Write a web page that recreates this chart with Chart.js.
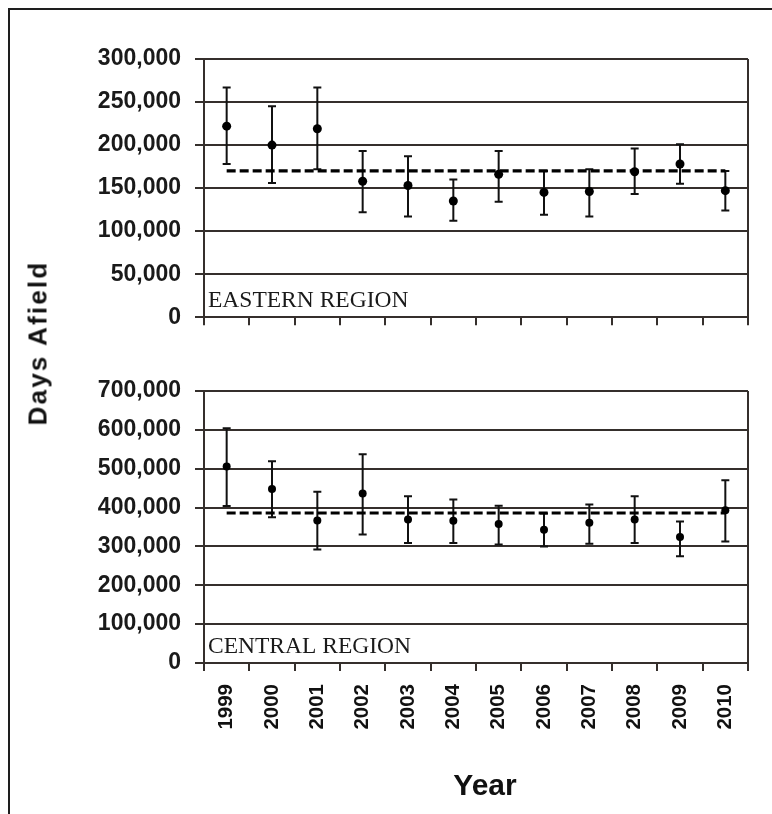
<!DOCTYPE html>
<html><head><meta charset="utf-8">
<script src="https://cdn.jsdelivr.net/npm/chart.js@4.4.1/dist/chart.umd.min.js"></script>
<style>
html,body{margin:0;padding:0;background:#fff;overflow:hidden;width:772px;height:814px;position:relative;}
#frame{position:absolute;left:8px;top:8px;width:800px;height:850px;border:2px solid #1e1e1e;box-sizing:border-box;}
canvas{position:absolute;left:0;}
#c1{top:0}
#c2{top:345px}
.title{position:absolute;font-family:"Liberation Sans",Arial,sans-serif;font-weight:bold;color:#111;white-space:nowrap;}
#ytitle{left:38px;top:343px;font-size:26px;transform:translate(-50%,-50%) rotate(-90deg);letter-spacing:2.2px;}
#xtitle{left:485px;top:785px;font-size:30px;transform:translate(-50%,-50%);}
</style></head><body>
<div id="frame"></div>
<canvas id="c1" width="772" height="345"></canvas>
<canvas id="c2" width="772" height="469"></canvas>
<div id="ytitle" class="title">Days Afield</div>
<div id="xtitle" class="title">Year</div>
<script>
// ---- data ----
const years = ['1999','2000','2001','2002','2003','2004','2005','2006','2007','2008','2009','2010'];

const eastName = 'EASTERN REGION';
const eastValues = [222000, 200000, 219000, 158000, 153000, 135000, 166000, 145000, 146000, 169000, 178000, 147000];
const eastLow    = [178000, 156000, 172000, 122000, 117000, 112000, 134000, 119000, 117000, 143000, 155000, 124000];
const eastHigh   = [267000, 245000, 267000, 193000, 187000, 160000, 193000, 170000, 172000, 196000, 201000, 170000];
const eastMean = 170000;
const eastTicks = [0, 50000, 100000, 150000, 200000, 250000, 300000];

const centralName = 'CENTRAL REGION';
const centralValues = [506000, 448000, 367000, 436000, 369000, 366000, 358000, 343000, 361000, 369000, 324000, 393000];
const centralLow    = [404000, 375000, 292000, 331000, 309000, 309000, 305000, 300000, 307000, 309000, 275000, 313000];
const centralHigh   = [604000, 519000, 441000, 537000, 429000, 421000, 405000, 385000, 408000, 429000, 364000, 470000];
const centralMean = 386000;
const centralTicks = [0, 100000, 200000, 300000, 400000, 500000, 600000, 700000];

// ---- style ----
const GRID = '#352f2c';
const FONT = '"Liberation Sans", Arial, sans-serif';
const fmt = v => String(v).replace(/\B(?=(\d{3})+(?!\d))/g, ',');

const errorBarPlugin = {
  id: 'errorBars',
  beforeDatasetsDraw(chart, args, opts) {
    const ctx = chart.ctx, x = chart.scales.x, y = chart.scales.y;
    ctx.save();
    ctx.strokeStyle = '#111';
    ctx.lineWidth = 2;
    opts.low.forEach((lo, i) => {
      const px = x.getPixelForValue(i);
      const yl = y.getPixelForValue(lo), yh = y.getPixelForValue(opts.high[i]);
      ctx.beginPath();
      ctx.moveTo(px, yl); ctx.lineTo(px, yh);
      ctx.moveTo(px - opts.cap, yl); ctx.lineTo(px + opts.cap, yl);
      ctx.moveTo(px - opts.cap, yh); ctx.lineTo(px + opts.cap, yh);
      ctx.stroke();
    });
    ctx.restore();
  }
};

const regionPlugin = {
  id: 'regionLabel',
  afterDraw(chart, args, opts) {
    const ctx = chart.ctx, a = chart.chartArea;
    ctx.save();
    ctx.font = '23.5px "Liberation Serif", "Times New Roman", serif';
    ctx.fillStyle = '#1a1a1a';
    ctx.textAlign = 'left';
    ctx.textBaseline = 'alphabetic';
    ctx.fillText(opts.text, a.left + 4, a.bottom - 10);
    ctx.restore();
  }
};

const borderPlugin = {
  id: 'rightBorder',
  afterDraw(chart) {
    const ctx = chart.ctx, a = chart.chartArea;
    ctx.save();
    ctx.strokeStyle = GRID;
    ctx.lineWidth = 2;
    ctx.beginPath();
    ctx.moveTo(a.right, a.top);
    ctx.lineTo(a.right, a.bottom);
    ctx.stroke();
    ctx.restore();
  }
};

function makeChart(id, cfg) {
  return new Chart(document.getElementById(id), {
    type: 'line',
    data: {
      labels: years,
      datasets: [
        { label: cfg.name, data: cfg.values, showLine: false, pointRadius: cfg.r, pointHoverRadius: cfg.r,
          pointBackgroundColor: '#000', pointBorderColor: '#000', pointBorderWidth: 0, order: 0 },
        { label: 'mean', data: [{x: years[0], y: cfg.mean}, {x: years[years.length - 1], y: cfg.mean}],
          borderColor: '#000', borderWidth: 3.2, borderDash: [9, 4], pointRadius: 0, fill: false, order: 1 }
      ]
    },
    options: {
      responsive: false, animation: false, events: [],
      layout: { padding: { left: 0, top: cfg.padTop, right: 24, bottom: 0 } },
      plugins: {
        legend: { display: false }, tooltip: { enabled: false },
        errorBars: { low: cfg.low, high: cfg.high, cap: 4 },
        regionLabel: { text: cfg.name }
      },
      scales: {
        x: {
          type: 'category', offset: true,
          grid: { offset: true, drawOnChartArea: false, drawTicks: true, tickLength: 8, color: GRID, lineWidth: 2 },
          border: { display: true, color: GRID, width: 2 },
          ticks: { display: cfg.showX, autoSkip: false, minRotation: 90, maxRotation: 90, padding: 13,
                   color: '#111', font: { family: FONT, size: 20.5, weight: 'bold' } },
          afterFit: s => { s.height = cfg.xHeight; }
        },
        y: {
          min: 0, max: cfg.ticks[cfg.ticks.length - 1],
          afterBuildTicks: s => { s.ticks = cfg.ticks.map(v => ({ value: v })); },
          grid: { color: GRID, lineWidth: 2, tickLength: 9, drawTicks: true },
          border: { display: true, color: GRID, width: 2 },
          ticks: { padding: 14, color: '#1a1a1a', font: { family: FONT, size: 23, weight: 'bold' }, callback: v => fmt(v) },
          afterFit: s => { s.width = 204; }
        }
      }
    },
    plugins: [errorBarPlugin, regionPlugin, borderPlugin]
  });
}

makeChart('c1', { name: eastName, values: eastValues, low: eastLow, high: eastHigh, mean: eastMean,
  ticks: eastTicks, r: 4.5, padTop: 59, xHeight: 22, showX: false });
makeChart('c2', { name: centralName, values: centralValues, low: centralLow, high: centralHigh, mean: centralMean,
  ticks: centralTicks, r: 4, padTop: 46, xHeight: 151, showX: true });
</script>
</body></html>
